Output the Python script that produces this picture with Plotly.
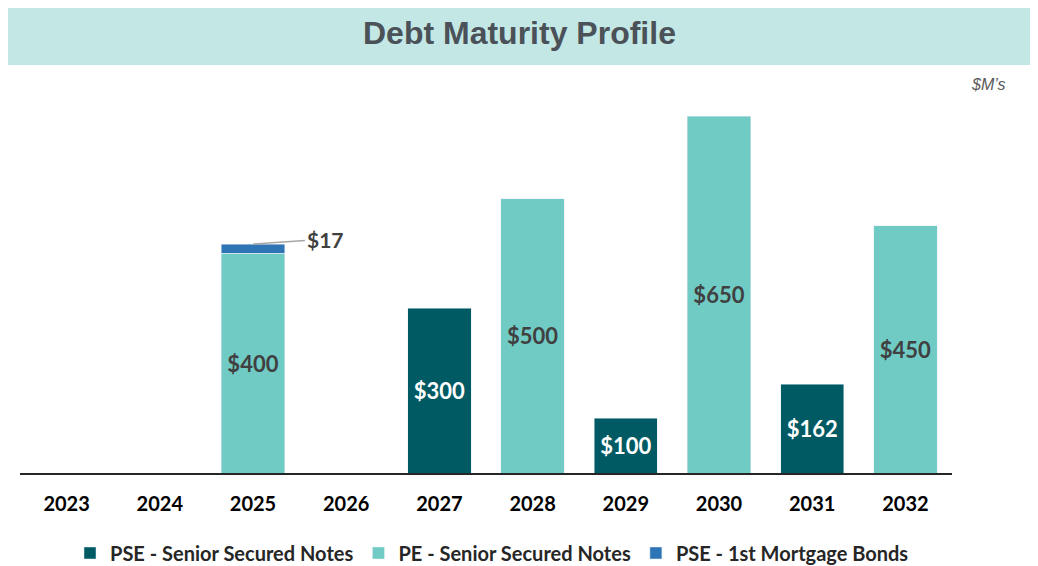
import plotly.graph_objects as go

# ---------------------------------------------------------------------------
# data ($M's)
# ---------------------------------------------------------------------------
years = ["2023", "2024", "2025", "2026", "2027", "2028", "2029", "2030", "2031", "2032"]
pse_senior_notes = [None, None, None, None, 300, None, 100, None, 162, None]
pe_senior_notes = [None, None, 400, None, None, 500, None, 650, None, 450]
pse_mortgage_bonds = [None, None, 17, None, None, None, None, None, None, None]

DARK_TEAL = "#005A63"
LIGHT_TEAL = "#70CBC5"
BLUE = "#2E75B6"
BAND = "#C3E7E4"
TEXT_DARK = "#404040"
FONT = "Lato"

# the page body adds an 8px margin, so the figure is laid out in
# reference pixels shifted by OFF
OFF = 8
W, H = 1038 - OFF, 566 - OFF
L, R, T, B = 20 - OFF, 1038 - 952, 100 - OFF, 566 - 473
PW, PH = W - L - R, H - T - B


def px_x(x):
    return (x - OFF - L) / PW


def px_y(y):
    return (H - B - (y - OFF)) / PH


def labels(values):
    return ["$%d" % v if v is not None else "" for v in values]


fig = go.Figure()
fig.add_trace(go.Bar(
    x=years, y=pse_senior_notes, name="PSE - Senior Secured Notes",
    marker_color=DARK_TEAL, text=labels(pse_senior_notes), textposition="inside",
    insidetextanchor="middle", textfont=dict(color="white", size=22, family=FONT, weight="bold"),
))
fig.add_trace(go.Bar(
    x=years, y=pe_senior_notes, name="PE - Senior Secured Notes",
    marker_color=LIGHT_TEAL, text=labels(pe_senior_notes), textposition="inside",
    insidetextanchor="middle", textfont=dict(color=TEXT_DARK, size=22, family=FONT, weight="bold"),
))
fig.add_trace(go.Bar(
    x=years, y=pse_mortgage_bonds, name="PSE - 1st Mortgage Bonds",
    marker_color=BLUE, textposition="none",
))

# call-out for the small mortgage bond slice (category axis -> use the index)
i25 = years.index("2025")
fig.add_annotation(
    x=i25, y=pe_senior_notes[i25] + pse_mortgage_bonds[i25], text="<b>$%d</b>" % pse_mortgage_bonds[i25],
    showarrow=True, arrowhead=0, arrowwidth=1.5, arrowcolor="#A6A6A6",
    ax=72, ay=-5, font=dict(size=21, family=FONT, color=TEXT_DARK),
)

# title band
fig.add_shape(type="rect", xref="paper", yref="paper",
              x0=px_x(0), x1=px_x(1038), y0=px_y(65), y1=px_y(0),
              fillcolor=BAND, line_width=0, layer="below")
fig.add_annotation(xref="paper", yref="paper", x=px_x(519), y=px_y(33), yanchor="middle",
                   text="<b>Debt Maturity Profile</b>", showarrow=False,
                   font=dict(family="Liberation Sans", size=32, color="#4B5159"))
fig.add_annotation(xref="paper", yref="paper", x=px_x(1008), y=px_y(85),
                   xanchor="right", yanchor="middle",
                   text="<i>$M’s</i>", showarrow=False,
                   font=dict(family="Liberation Sans", size=16, color="#595959"))

fig.update_layout(
    width=W, height=H,
    margin=dict(l=L, r=R, t=T, b=B, autoexpand=False),
    barmode="stack", bargap=0.32,
    plot_bgcolor="white", paper_bgcolor="white",
    showlegend=True,
    legend=dict(orientation="h", x=(492 - OFF) / W, xanchor="center", xref="container",
                y=(566 - 553) / H, yanchor="middle", yref="container",
                font=dict(family=FONT, size=20, color="#262626", weight="bold"),
                itemwidth=30, traceorder="normal"),
)
fig.update_xaxes(type="category", categoryorder="array", categoryarray=years,
                 range=[-0.5, len(years) - 0.5],
                 showline=True, linecolor="#262626", linewidth=2,
                 ticks="outside", ticklen=12, tickcolor="rgba(0,0,0,0)",
                 tickfont=dict(family=FONT, size=20, color="black", weight="bold"),
                 automargin=False)
fig.update_yaxes(range=[0, PH / 0.549], visible=False, showgrid=False)

fig.write_html("out.html")
